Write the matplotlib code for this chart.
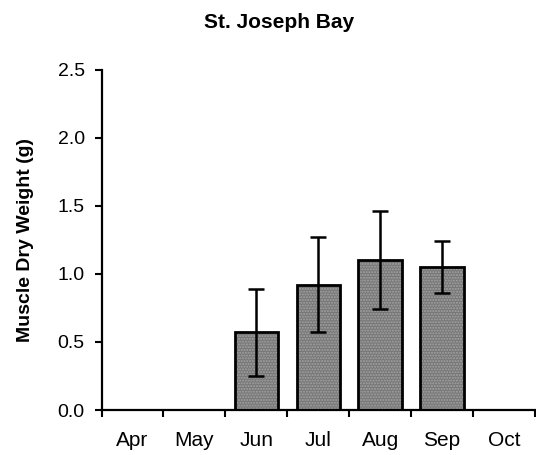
import numpy as np
import matplotlib.pyplot as plt

plt.rcParams['font.family'] = ['Liberation Sans', 'DejaVu Sans']

# Peso seco del músculo por mes (media y desviación)
meses = ['Apr', 'May', 'Jun', 'Jul', 'Aug', 'Sep', 'Oct']
medias = [np.nan, np.nan, 0.57, 0.92, 1.10, 1.05, np.nan]
errores = [np.nan, np.nan, 0.32, 0.35, 0.36, 0.19, np.nan]

fig = plt.figure(figsize=(5.36, 4.55), dpi=100)
ax = fig.add_axes([0.1894, 0.0989, 0.8086, 0.7473])

x = np.arange(len(meses))
con_dato = ~np.isnan(medias)
xb = x[con_dato]
yb = np.array(medias)[con_dato]
eb = np.array(errores)[con_dato]

# relleno gris con punteado, luego el contorno negro
ax.bar(xb, yb, width=0.7, color='#767676', edgecolor='#a4a4a4', linewidth=0, hatch='......', zorder=2)
ax.bar(xb, yb, width=0.7, fill=False, edgecolor='black', linewidth=2.0, zorder=3)
ax.errorbar(xb, yb, yerr=eb, fmt='none', ecolor='black', elinewidth=1.8, capsize=6, capthick=1.8, zorder=4)

ax.set_xlim(-0.5, len(meses) - 0.5)
ax.set_ylim(0, 2.5)
ax.set_yticks(np.arange(0, 2.51, 0.5))
ax.set_yticklabels([f'{v:.1f}' for v in np.arange(0, 2.51, 0.5)], fontsize=14)
ax.set_xticks(x)
ax.set_xticklabels(meses, fontsize=15)
ax.set_xticks(np.arange(-0.5, len(meses), 1), minor=True)
ax.tick_params(axis='x', which='major', length=0, pad=15)
ax.tick_params(axis='x', which='minor', direction='out', length=5, width=1.5)
ax.tick_params(axis='y', direction='out', length=5, width=1.5, pad=7)

ax.spines['top'].set_visible(False)
ax.spines['right'].set_visible(False)
ax.spines['left'].set_linewidth(1.6)
ax.spines['bottom'].set_linewidth(1.6)

ax.set_ylabel('Muscle Dry Weight (g)', fontsize=14, fontweight='bold', va='center')
ax.yaxis.set_label_coords(-0.1753, 0.5)
fig.text(279 / 536, 1 - 28.3 / 455, 'St. Joseph Bay', fontsize=15, fontweight='bold', ha='center', va='baseline')

fig.savefig('out.png', dpi=100)
